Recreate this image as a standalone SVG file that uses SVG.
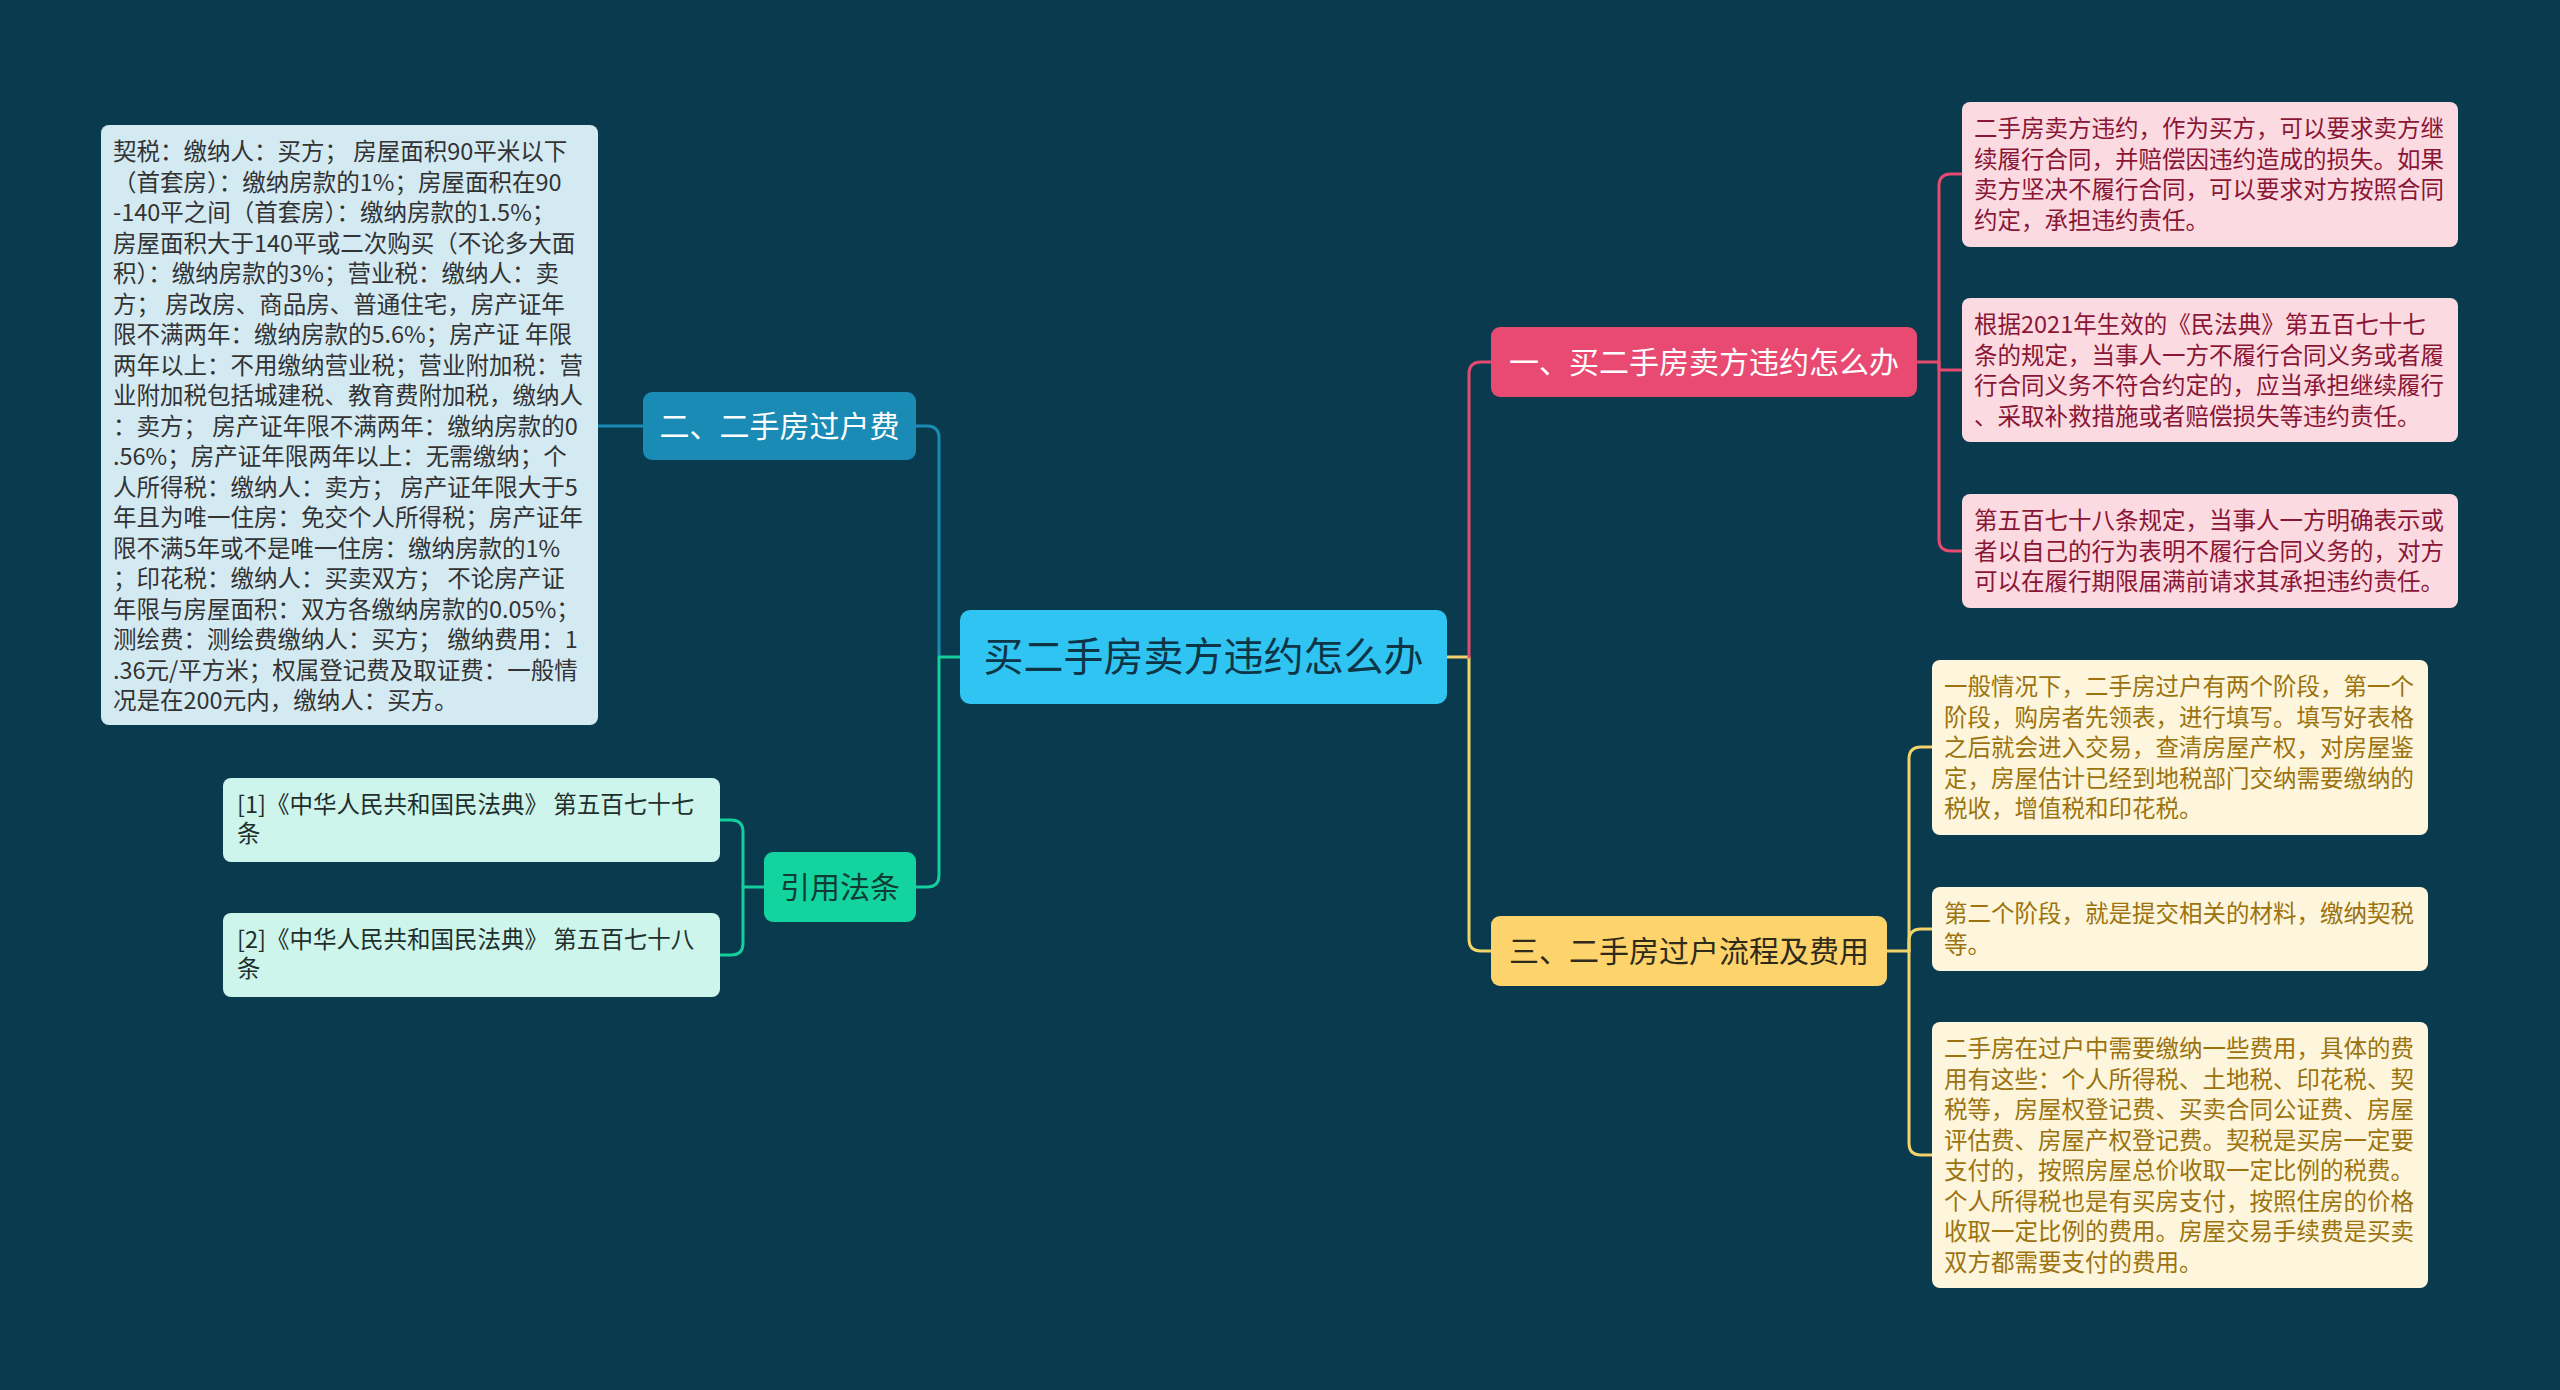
<svg xmlns="http://www.w3.org/2000/svg" width="2560" height="1390" viewBox="0 0 2560 1390">
<style>
text{font-family:"Noto Sans CJK SC","Noto Sans",sans-serif;}
.leaf{font-size:23.5px;}
.br{font-size:30px;}
.ln{fill:none;stroke-width:3;stroke-linecap:round;stroke-linejoin:round;}
</style>
<rect width="2560" height="1390" fill="#093a4d"/>
<g id="connectors">
  <path class="ln" stroke="#f2d46a" d="M1447,657 H1469 V939 Q1469,951 1481,951 H1491"/>
  <path class="ln" stroke="#e64a6f" d="M1469,657 V374 Q1469,362 1481,362 H1491"/>
  <path class="ln" stroke="#e64a6f" d="M1917,362 H1939 V186 Q1939,174 1951,174 H1961"/>
  <path class="ln" stroke="#e64a6f" d="M1939,362 V370 H1961"/>
  <path class="ln" stroke="#e64a6f" d="M1939,362 V539 Q1939,551 1951,551 H1961"/>
  <path class="ln" stroke="#f2d46a" d="M1887,951 H1909 V759 Q1909,747 1921,747 H1932"/>
  <path class="ln" stroke="#f2d46a" d="M1909,951 V941 Q1909,929 1921,929 H1932"/>
  <path class="ln" stroke="#f2d46a" d="M1909,951 V1143 Q1909,1155 1921,1155 H1932"/>
  <path class="ln" stroke="#1a8bb5" d="M939,657 V438 Q939,426 927,426 H916"/>
  <path class="ln" stroke="#1a8bb5" d="M643,426 H598"/>
  <path class="ln" stroke="#14cf9c" d="M960,657 H939 V875 Q939,887 927,887 H916"/>
  <path class="ln" stroke="#14cf9c" d="M764,887 H743 V832 Q743,820 731,820 H720"/>
  <path class="ln" stroke="#14cf9c" d="M743,887 V943 Q743,955 731,955 H720"/>
</g>
<g id="center">
  <rect x="960" y="610" width="487" height="94" rx="10" fill="#30c4f2"/>
  <text x="1203.5" y="671" font-size="40" text-anchor="middle" fill="#0d3546">买二手房卖方违约怎么办</text>
</g>
<g id="n-fee">
  <rect x="643" y="392" width="273" height="68" rx="9" fill="#1a8bb5"/>
  <text class="br" x="779.5" y="437" text-anchor="middle" fill="#ffffff">二、二手房过户费</text>
</g>
<g id="n-fee-detail">
  <rect x="101" y="125" width="497" height="600" rx="8" fill="#d3eaf3"/>
  <text class="leaf" fill="#333333">
    <tspan x="113" y="160">契税：缴纳人：买方； 房屋面积90平米以下</tspan>
    <tspan x="113" y="190.5">（首套房）：缴纳房款的1%；房屋面积在90</tspan>
    <tspan x="113" y="221">-140平之间（首套房）：缴纳房款的1.5%；</tspan>
    <tspan x="113" y="251.5">房屋面积大于140平或二次购买（不论多大面</tspan>
    <tspan x="113" y="282">积）：缴纳房款的3%；营业税：缴纳人：卖</tspan>
    <tspan x="113" y="312.5">方； 房改房、商品房、普通住宅，房产证年</tspan>
    <tspan x="113" y="343">限不满两年：缴纳房款的5.6%；房产证 年限</tspan>
    <tspan x="113" y="373.5">两年以上：不用缴纳营业税；营业附加税：营</tspan>
    <tspan x="113" y="404">业附加税包括城建税、教育费附加税，缴纳人</tspan>
    <tspan x="113" y="434.5">：卖方； 房产证年限不满两年：缴纳房款的0</tspan>
    <tspan x="113" y="465">.56%；房产证年限两年以上：无需缴纳；个</tspan>
    <tspan x="113" y="495.5">人所得税：缴纳人：卖方； 房产证年限大于5</tspan>
    <tspan x="113" y="526">年且为唯一住房：免交个人所得税；房产证年</tspan>
    <tspan x="113" y="556.5">限不满5年或不是唯一住房：缴纳房款的1%</tspan>
    <tspan x="113" y="587">；印花税：缴纳人：买卖双方； 不论房产证</tspan>
    <tspan x="113" y="617.5">年限与房屋面积：双方各缴纳房款的0.05%；</tspan>
    <tspan x="113" y="648">测绘费：测绘费缴纳人：买方； 缴纳费用：1</tspan>
    <tspan x="113" y="678.5">.36元/平方米；权属登记费及取证费：一般情</tspan>
    <tspan x="113" y="709">况是在200元内，缴纳人：买方。</tspan>
  </text>
</g>
<g id="n-law">
  <rect x="764" y="852" width="152" height="70" rx="9" fill="#13d39f"/>
  <text class="br" x="840" y="898" text-anchor="middle" fill="#0f3d33">引用法条</text>
</g>
<g id="n-law1">
  <rect x="223" y="778" width="497" height="84" rx="8" fill="#cdf5ec"/>
  <text class="leaf" font-size="23" fill="#1f2f2c">
    <tspan x="237" y="813">[1]《中华人民共和国民法典》 第五百七十七</tspan>
    <tspan x="237" y="842">条</tspan>
  </text>
</g>
<g id="n-law2">
  <rect x="223" y="913" width="497" height="84" rx="8" fill="#cdf5ec"/>
  <text class="leaf" font-size="23" fill="#1f2f2c">
    <tspan x="237" y="948">[2]《中华人民共和国民法典》 第五百七十八</tspan>
    <tspan x="237" y="977">条</tspan>
  </text>
</g>
<g id="n-breach">
  <rect x="1491" y="327" width="426" height="70" rx="9" fill="#e84a71"/>
  <text class="br" x="1704" y="373" text-anchor="middle" fill="#ffffff">一、买二手房卖方违约怎么办</text>
</g>
<g id="n-breach-a">
  <rect x="1962" y="102" width="496" height="145" rx="8" fill="#fcdae1"/>
  <text class="leaf" fill="#8a1636">
    <tspan x="1974" y="137">二手房卖方违约，作为买方，可以要求卖方继</tspan>
    <tspan x="1974" y="167.5">续履行合同，并赔偿因违约造成的损失。如果</tspan>
    <tspan x="1974" y="198">卖方坚决不履行合同，可以要求对方按照合同</tspan>
    <tspan x="1974" y="228.5">约定，承担违约责任。</tspan>
  </text>
</g>
<g id="n-breach-b">
  <rect x="1962" y="298" width="496" height="144" rx="8" fill="#fcdae1"/>
  <text class="leaf" fill="#8a1636">
    <tspan x="1974" y="333">根据2021年生效的《民法典》第五百七十七</tspan>
    <tspan x="1974" y="363.5">条的规定，当事人一方不履行合同义务或者履</tspan>
    <tspan x="1974" y="394">行合同义务不符合约定的，应当承担继续履行</tspan>
    <tspan x="1974" y="424.5">、采取补救措施或者赔偿损失等违约责任。</tspan>
  </text>
</g>
<g id="n-breach-c">
  <rect x="1962" y="494" width="496" height="114" rx="8" fill="#fcdae1"/>
  <text class="leaf" fill="#8a1636">
    <tspan x="1974" y="529">第五百七十八条规定，当事人一方明确表示或</tspan>
    <tspan x="1974" y="559.5">者以自己的行为表明不履行合同义务的，对方</tspan>
    <tspan x="1974" y="590">可以在履行期限届满前请求其承担违约责任。</tspan>
  </text>
</g>
<g id="n-process">
  <rect x="1491" y="916" width="396" height="70" rx="9" fill="#fdd36b"/>
  <text class="br" x="1689" y="962" text-anchor="middle" fill="#2e2a1c">三、二手房过户流程及费用</text>
</g>
<g id="n-process-d">
  <rect x="1932" y="660" width="496" height="175" rx="8" fill="#fdf6dc"/>
  <text class="leaf" fill="#9c730f">
    <tspan x="1944" y="695">一般情况下，二手房过户有两个阶段，第一个</tspan>
    <tspan x="1944" y="725.5">阶段，购房者先领表，进行填写。填写好表格</tspan>
    <tspan x="1944" y="756">之后就会进入交易，查清房屋产权，对房屋鉴</tspan>
    <tspan x="1944" y="786.5">定，房屋估计已经到地税部门交纳需要缴纳的</tspan>
    <tspan x="1944" y="817">税收，增值税和印花税。</tspan>
  </text>
</g>
<g id="n-process-e">
  <rect x="1932" y="887" width="496" height="84" rx="8" fill="#fdf6dc"/>
  <text class="leaf" fill="#9c730f">
    <tspan x="1944" y="922">第二个阶段，就是提交相关的材料，缴纳契税</tspan>
    <tspan x="1944" y="952.5">等。</tspan>
  </text>
</g>
<g id="n-process-f">
  <rect x="1932" y="1022" width="496" height="266" rx="8" fill="#fdf6dc"/>
  <text class="leaf" fill="#9c730f">
    <tspan x="1944" y="1057">二手房在过户中需要缴纳一些费用，具体的费</tspan>
    <tspan x="1944" y="1087.5">用有这些：个人所得税、土地税、印花税、契</tspan>
    <tspan x="1944" y="1118">税等，房屋权登记费、买卖合同公证费、房屋</tspan>
    <tspan x="1944" y="1148.5">评估费、房屋产权登记费。契税是买房一定要</tspan>
    <tspan x="1944" y="1179">支付的，按照房屋总价收取一定比例的税费。</tspan>
    <tspan x="1944" y="1209.5">个人所得税也是有买房支付，按照住房的价格</tspan>
    <tspan x="1944" y="1240">收取一定比例的费用。房屋交易手续费是买卖</tspan>
    <tspan x="1944" y="1270.5">双方都需要支付的费用。</tspan>
  </text>
</g>
</svg>
